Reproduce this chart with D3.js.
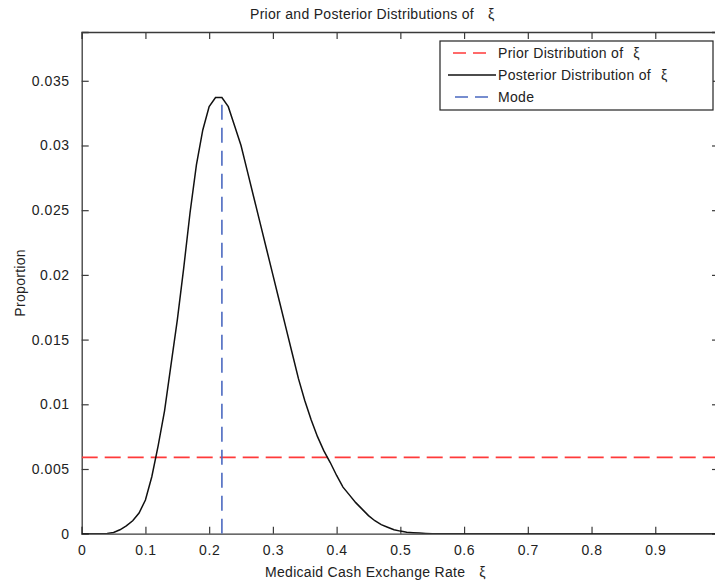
<!DOCTYPE html>
<html><head><meta charset="utf-8">
<script src="https://cdn.jsdelivr.net/npm/d3@7"></script>
<style>
html,body{margin:0;padding:0;background:#fff;}
svg{display:block;}
text{font-family:"Liberation Sans Narrow","Liberation Sans",Arial,sans-serif;fill:#222;}
</style></head>
<body>
<script>
// ---- data ----
const xValues = [0,0.01,0.02,0.03,0.04,0.05,0.06,0.07,0.08,0.09,0.10,0.11,0.12,0.13,0.14,0.15,0.16,0.17,0.18,0.19,0.20,0.21,0.22,0.23,0.24,0.25,0.26,0.27,0.28,0.29,0.30,0.31,0.32,0.33,0.34,0.35,0.36,0.37,0.38,0.39,0.40,0.41,0.42,0.43,0.44,0.45,0.46,0.47,0.48,0.49,0.50,0.51,0.52,0.53,0.54,0.55,1.0];
const posterior = [0,0,0,0,0.00002,0.0001,0.0003,0.0006,0.001,0.0016,0.0026,0.0044,0.0068,0.0095,0.013,0.0165,0.0205,0.0248,0.0285,0.0312,0.0330,0.0337,0.0337,0.0330,0.0315,0.0300,0.0280,0.0260,0.0240,0.0220,0.0200,0.0180,0.0160,0.0140,0.0120,0.0103,0.0088,0.0075,0.0064,0.0055,0.0045,0.0036,0.0030,0.0024,0.0019,0.0014,0.0010,0.0007,0.0005,0.0003,0.0002,0.00012,0.00008,0.00005,0.00002,0,0];
const priorValue = 0.0059;
const modeValue = 0.22;
const xTicks = [0,0.1,0.2,0.3,0.4,0.5,0.6,0.7,0.8,0.9];
const yTicks = [0,0.005,0.01,0.015,0.02,0.025,0.03,0.035];
const xDomain = [0,1];
const yDomain = [0,0.03877];
const legendLabels = ["Prior Distribution of", "Posterior Distribution of", "Mode"];
const titleText = "Prior and Posterior Distributions of";
const xLabelText = "Medicaid Cash Exchange Rate";
const yLabelText = "Proportion";
const xiSymbol = "ξ";

// ---- layout ----
const W = 715, H = 582;
const L = 81.7, R = 719, T = 32, B = 533.7;
const axisColor = "#3a3a3a";
const red = "#ff3a3a", blue = "#4a68c0";

const svg = d3.select("body").append("svg").attr("width", W).attr("height", H);
const x = d3.scaleLinear().domain(xDomain).range([L, R]);
const y = d3.scaleLinear().domain(yDomain).range([B, T]);

svg.append("clipPath").attr("id","clip").append("rect")
  .attr("x", L).attr("y", T).attr("width", R - L).attr("height", B - T);

// axes box
const gx = svg.append("g").attr("transform", `translate(0,${B})`)
  .call(d3.axisBottom(x).tickValues(xTicks).tickSize(-7).tickPadding(11).tickFormat(d3.format("")));
const gxTop = svg.append("g").attr("transform", `translate(0,${T})`)
  .call(d3.axisTop(x).tickValues(xTicks).tickSize(-7).tickFormat(""));
const gy = svg.append("g").attr("transform", `translate(${L},0)`)
  .call(d3.axisLeft(y).tickValues(yTicks).tickSize(-7).tickPadding(12).tickFormat(d3.format("")));
const gyR = svg.append("g").attr("transform", `translate(${R},0)`)
  .call(d3.axisRight(y).tickValues(yTicks).tickSize(-7).tickFormat(""));
[gx, gxTop, gy, gyR].forEach(g => {
  g.select(".domain").attr("stroke", axisColor).attr("stroke-width", 1.3);
  g.selectAll(".tick line").attr("stroke", axisColor).attr("stroke-width", 1.2);
  g.selectAll("text").attr("font-size", 14).attr("fill", "#222").style("letter-spacing","0.6px");
});

const plot = svg.append("g").attr("clip-path", "url(#clip)");

// prior
plot.append("line")
  .attr("x1", x(xDomain[0])).attr("x2", x(xDomain[1]))
  .attr("y1", y(priorValue)).attr("y2", y(priorValue))
  .attr("stroke", red).attr("stroke-width", 1.6).attr("stroke-dasharray", "16,7");

// posterior
const line = d3.line().x((d, i) => x(xValues[i])).y(d => y(d));
plot.append("path").datum(posterior)
  .attr("d", line).attr("fill", "none").attr("stroke", "#111").attr("stroke-width", 1.5);

// mode
plot.append("line")
  .attr("x1", x(modeValue)).attr("x2", x(modeValue))
  .attr("y1", y(0)).attr("y2", y(d3.max(posterior)))
  .attr("stroke", blue).attr("stroke-width", 1.6).attr("stroke-dasharray", "15,8");

// title and labels
function labelWithXi(g, txt, xPos, yPos, size) {
  const t = g.append("text").attr("x", xPos).attr("y", yPos).attr("font-size", size)
    .style("letter-spacing", "0.3px");
  t.append("tspan").text(txt);
  t.append("tspan").attr("dx", 14).text(xiSymbol);
  return t;
}
labelWithXi(svg, titleText, 250, 19, 14);
labelWithXi(svg, xLabelText, 265, 577, 14);
svg.append("text").attr("transform", `translate(25,${(T + B) / 2}) rotate(-90)`)
  .attr("text-anchor", "middle").attr("font-size", 14).style("letter-spacing","0.3px").text(yLabelText);

// legend
const lg = svg.append("g");
lg.append("rect").attr("x", 440).attr("y", 41).attr("width", 273).attr("height", 69)
  .attr("fill", "#fff").attr("stroke", "#222").attr("stroke-width", 1.2);
const rowsY = [53, 75, 97];
const styles = [
  {stroke: red, dash: "13,7", x1: 453, x2: 490},
  {stroke: "#111", dash: null, x1: 448, x2: 496},
  {stroke: blue, dash: "13,7", x1: 455, x2: 490}
];
legendLabels.forEach((lab, i) => {
  const s = styles[i];
  lg.append("line").attr("x1", s.x1).attr("x2", s.x2).attr("y1", rowsY[i]).attr("y2", rowsY[i])
    .attr("stroke", s.stroke).attr("stroke-width", 1.5).attr("stroke-dasharray", s.dash);
  const t = lg.append("text").attr("x", 498).attr("y", rowsY[i] + 5).attr("font-size", 14)
    .style("letter-spacing", "0.3px");
  t.append("tspan").text(lab);
  if (i < 2) t.append("tspan").attr("dx", 10).text(xiSymbol);
});
</script>
</body></html>
